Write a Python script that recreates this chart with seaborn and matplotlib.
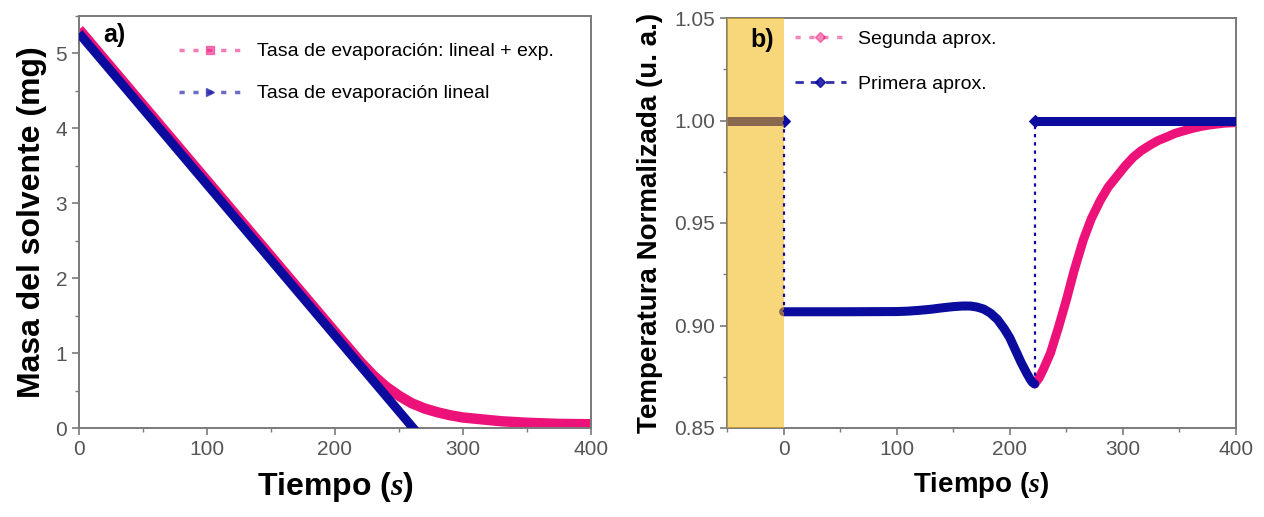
import matplotlib
matplotlib.use("Agg")
import matplotlib.pyplot as plt
from matplotlib.lines import Line2D
from matplotlib.ticker import MultipleLocator, FormatStrFormatter
import seaborn as sns

# ---------------- data (panel a) ----------------
t_lin = [0, 265]
m_lin = [5.27, -0.08]
t_exp = [0, 200, 220, 230, 240, 250, 260, 270, 280, 290, 300, 315, 330, 350, 375, 400]
m_exp = [5.32, 1.28, 0.88, 0.70, 0.55, 0.43, 0.33, 0.26, 0.21, 0.17, 0.14, 0.115, 0.09, 0.07, 0.055, 0.05]

# ---------------- data (panel b) ----------------
t_p1_pre = [-50, 0]
T_p1_pre = [1.0, 1.0]
t_p1_mid = [0, 50, 100, 110, 120, 130, 140, 150, 158, 165, 171, 177, 183, 189, 195,
            200, 205, 210, 215, 218, 220, 222]
T_p1_mid = [0.9067, 0.9067, 0.9068, 0.9070, 0.9074, 0.9079, 0.9086, 0.9092, 0.9095,
            0.9095, 0.9090, 0.9080, 0.9060, 0.9030, 0.8985, 0.8940, 0.8880, 0.8820,
            0.8767, 0.8738, 0.8722, 0.8715]
t_p1_post = [222, 400]
T_p1_post = [1.0, 1.0]
t_p2 = [222, 226, 230, 236, 243, 250, 257, 265, 272, 280, 287, 295, 302, 309, 316,
        324, 331, 339, 346, 354, 361, 368, 375, 382, 390, 400]
T_p2 = [0.8715, 0.8745, 0.8790, 0.8866, 0.8990, 0.9124, 0.9270, 0.9417, 0.9520, 0.9610,
        0.9675, 0.9730, 0.9778, 0.9820, 0.9852, 0.9880, 0.9902, 0.9920, 0.9937, 0.9950,
        0.9961, 0.9970, 0.9977, 0.9982, 0.9987, 0.9990]
shade_range = [-50, 0]

labels_a = ["Tasa de evaporación: lineal + exp.", "Tasa de evaporación lineal"]
labels_b = ["Segunda aprox.", "Primera aprox."]

PINK = "#EC1279"
BLUE = "#0B0B9E"
GRAY = "#555555"
SPINE = "#7a7a7a"

sns.set_style("ticks")
plt.rcParams["font.family"] = ["Liberation Sans", "DejaVu Sans"]
plt.rcParams["mathtext.fontset"] = "custom"
plt.rcParams["mathtext.it"] = "Liberation Serif:italic:bold"
plt.rcParams["mathtext.rm"] = "Liberation Sans:bold"
plt.rcParams["text.color"] = "black"
plt.rcParams["axes.labelcolor"] = "black"

fig = plt.figure(figsize=(12.64, 5.17), dpi=100)
ax1 = fig.add_axes([79 / 1264, 89 / 517, 512 / 1264, 412 / 517])
ax2 = fig.add_axes([727 / 1264, 89 / 517, 509 / 1264, 410 / 517])

# ---------- panel a ----------
sns.lineplot(x=t_exp, y=m_exp, ax=ax1, color=PINK, linewidth=7.5, estimator=None,
             sort=False, legend=False, solid_capstyle="butt", zorder=2)
sns.lineplot(x=t_lin, y=m_lin, ax=ax1, color=BLUE, linewidth=6.5, estimator=None,
             sort=False, legend=False, solid_capstyle="butt", zorder=3)
ax1.set_xlim(0, 400)
ax1.set_ylim(0, 5.5)
ax1.xaxis.set_major_locator(MultipleLocator(100))
ax1.xaxis.set_minor_locator(MultipleLocator(50))
ax1.yaxis.set_major_locator(MultipleLocator(1))
ax1.yaxis.set_minor_locator(MultipleLocator(0.5))
ax1.set_xlabel(r"Tiempo ($s$)", fontsize=23, fontweight="bold", labelpad=8)
ax1.set_ylabel("Masa del solvente (mg)", fontsize=23, fontweight="bold", labelpad=6)
ax1.text(0.047, 0.955, "a)", transform=ax1.transAxes, fontsize=18, fontweight="bold",
         va="center", ha="left")
h_a = [Line2D([], [], color=PINK, linestyle=(0, (1.5, 2.5)), linewidth=2.5, alpha=0.55,
              marker="s", markersize=6, markerfacecolor=PINK, markeredgecolor=PINK),
       Line2D([], [], color=BLUE, linestyle=(0, (1.5, 2.5)), linewidth=2.5, alpha=0.6,
              marker=">", markersize=6, markerfacecolor=BLUE, markeredgecolor=BLUE)]
ax1.legend(h_a, labels_a, loc="upper left", bbox_to_anchor=(0.196, 0.935), frameon=False,
           fontsize=14, handlelength=3.2, handletextpad=0.8, labelspacing=1.25,
           borderpad=0, borderaxespad=0)

# ---------- panel b ----------
sns.lineplot(x=t_p2, y=T_p2, ax=ax2, color=PINK, linewidth=6.5, estimator=None,
             sort=False, legend=False, zorder=2)
sns.lineplot(x=t_p1_pre, y=T_p1_pre, ax=ax2, color=BLUE, linewidth=6.5, estimator=None,
             sort=False, legend=False, zorder=3, marker="D", markersize=6, markevery=[1],
             markeredgecolor=BLUE, markerfacecolor=BLUE, solid_capstyle="butt")
sns.lineplot(x=t_p1_mid, y=T_p1_mid, ax=ax2, color=BLUE, linewidth=6.5, estimator=None,
             sort=False, legend=False, zorder=3)
sns.lineplot(x=t_p1_post, y=T_p1_post, ax=ax2, color=BLUE, linewidth=6.5, estimator=None,
             sort=False, legend=False, zorder=3, marker="D", markersize=6, markevery=[0],
             markeredgecolor=BLUE, markerfacecolor=BLUE, solid_capstyle="butt")
# dotted jumps of first approximation
sns.lineplot(x=[t_p1_pre[-1], t_p1_mid[0]], y=[T_p1_pre[-1], T_p1_mid[0]], ax=ax2,
             color=BLUE, linewidth=1.6, linestyle=(0, (1.5, 2.2)), estimator=None,
             sort=False, legend=False, zorder=5)
sns.lineplot(x=[t_p1_mid[-1], t_p1_post[0]], y=[T_p1_mid[-1], T_p1_post[0]], ax=ax2,
             color=BLUE, linewidth=1.6, linestyle=(0, (1.5, 2.2)), estimator=None,
             sort=False, legend=False, zorder=5)
ax2.axvspan(shade_range[0], shade_range[1], color="#F4B60F", alpha=0.55, linewidth=0, zorder=4)
ax2.set_xlim(-50, 400)
ax2.set_ylim(0.85, 1.05)
ax2.xaxis.set_major_locator(MultipleLocator(100))
ax2.xaxis.set_minor_locator(MultipleLocator(50))
ax2.yaxis.set_major_locator(MultipleLocator(0.05))
ax2.yaxis.set_minor_locator(MultipleLocator(0.025))
ax2.yaxis.set_major_formatter(FormatStrFormatter("%.2f"))
ax2.set_xlabel(r"Tiempo ($s$)", fontsize=20, fontweight="bold", labelpad=8)
ax2.set_ylabel("Temperatura Normalizada (u. a.)", fontsize=20, fontweight="bold", labelpad=8)
ax2.text(0.045, 0.946, "b)", transform=ax2.transAxes, fontsize=18, fontweight="bold",
         va="center", ha="left", zorder=6)
h_b = [Line2D([], [], color=PINK, linestyle=(0, (1.5, 2.5)), linewidth=2.5, alpha=0.5,
              marker="D", markersize=5, markerfacecolor=PINK, markeredgecolor=PINK),
       Line2D([], [], color=BLUE, linestyle=(0, (3, 2.5)), linewidth=2, alpha=0.85,
              marker="D", markersize=5, markerfacecolor=BLUE, markeredgecolor=BLUE)]
ax2.legend(h_b, labels_b, loc="upper left", bbox_to_anchor=(0.134, 0.97), frameon=False,
           fontsize=14, handlelength=2.6, handletextpad=0.65, labelspacing=1.4,
           borderpad=0, borderaxespad=0)

for ax in (ax1, ax2):
    for s in ax.spines.values():
        s.set_visible(True)
        s.set_color(SPINE)
        s.set_linewidth(1.4)
    ax.tick_params(which="major", direction="out", length=5, width=1.2, color=SPINE,
                   labelsize=15, labelcolor=GRAY, top=False, right=False)
    ax.tick_params(which="minor", direction="out", length=3, width=1.0, color=SPINE,
                   top=False, right=False)
    ax.set_facecolor("white")

fig.savefig("out.png", dpi=100)
